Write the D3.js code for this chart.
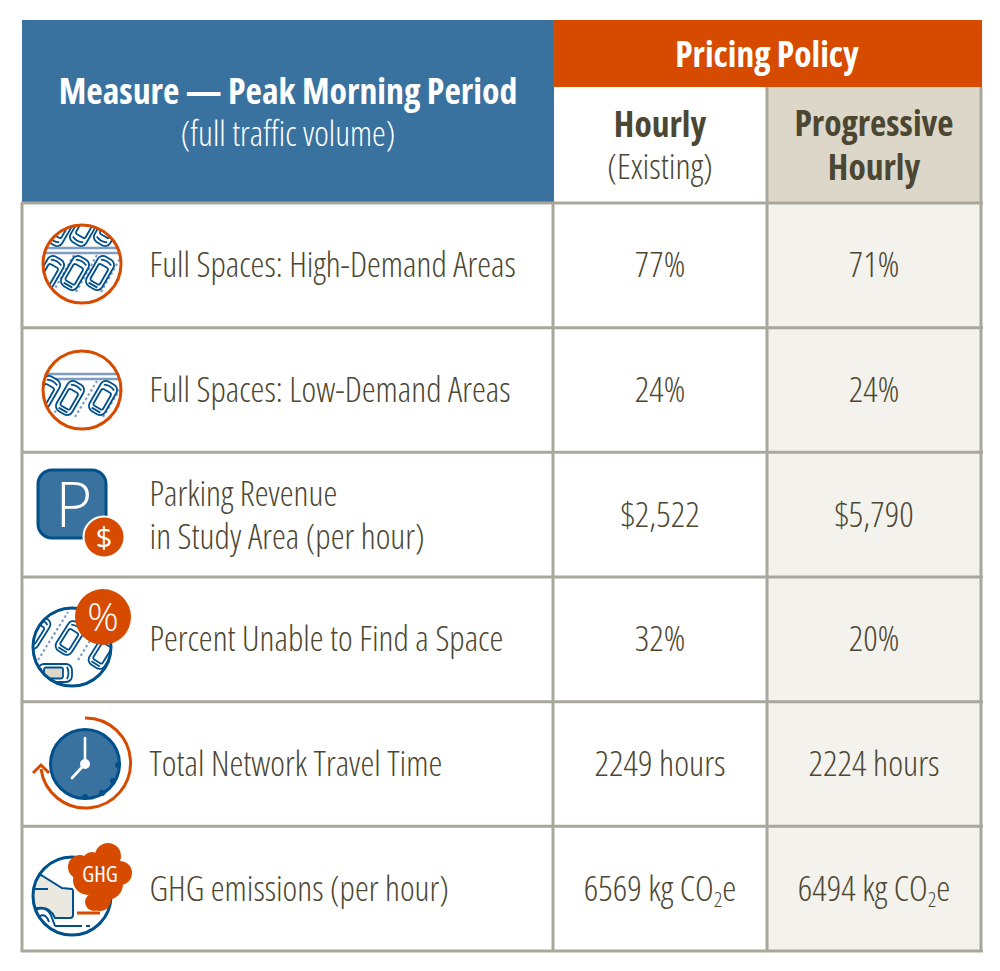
<!DOCTYPE html>
<html>
<head>
<meta charset="utf-8">
<script src="https://cdn.jsdelivr.net/npm/d3@7"></script>
<style>
  html, body { margin: 0; padding: 0; background: #fff; }
  text { font-family: "Open Sans", sans-serif; font-stretch: 75%; }
  text.wide { font-stretch: 100%; }
</style>
</head>
<body>
<div id="chart"></div>
<script>
// table content
var rows = ["high", "low", "revenue", "unable", "time", "ghg"];
var measures = [
    ["Full Spaces: High-Demand Areas"],
    ["Full Spaces: Low-Demand Areas"],
    ["Parking Revenue", "in Study Area (per hour)"],
    ["Percent Unable to Find a Space"],
    ["Total Network Travel Time"],
    ["GHG emissions (per hour)"]
];
var hourly = ["77%", "24%", "$2,522", "32%", "2249 hours", "6569 kg CO2e"];
var progressive = ["71%", "24%", "$5,790", "20%", "2224 hours", "6494 kg CO2e"];

var blue = "#39729f", darkBlue = "#00508c", orange = "#d64b00", grey = "#a9a79b",
    beige = "#ddd7c9", pale = "#f3f2ed", ink = "#4c4733", lane = "#7f9dc2";

var svg = d3.select("#chart").append("svg")
    .attr("width", 1000)
    .attr("height", 971)
    .style("display", "block");
var defs = svg.append("defs");

var y = d3.scaleBand().domain(rows).range([203, 951]);
var colEdge = { measure: 22, hourly: 553, progressive: 767, end: 981 };
var colMid = function (a, b) { return (colEdge[a] + colEdge[b]) / 2; };

// backgrounds
svg.append("rect").attr("x", 22).attr("y", 20).attr("width", 532).attr("height", 183).attr("fill", blue);
svg.append("rect").attr("x", 553).attr("y", 20).attr("width", 429).attr("height", 67).attr("fill", orange);
svg.append("rect").attr("x", colEdge.progressive).attr("y", 87).attr("width", 214).attr("height", 116).attr("fill", beige);
svg.append("rect").attr("x", colEdge.progressive).attr("y", 203).attr("width", 214).attr("height", 748).attr("fill", pale);

// grid
var grid = svg.append("g").attr("stroke", grey).attr("stroke-width", 3);
rows.forEach(function (r) {
    grid.append("line").attr("x1", 21).attr("x2", 983).attr("y1", y(r) + y.bandwidth()).attr("y2", y(r) + y.bandwidth());
});
grid.append("line").attr("x1", 21).attr("x2", 983).attr("y1", 203).attr("y2", 203);
[[colEdge.measure, 203], [colEdge.hourly, 203], [colEdge.progressive, 87], [colEdge.end, 87]].forEach(function (d) {
    grid.append("line").attr("x1", d[0]).attr("x2", d[0]).attr("y1", d[1]).attr("y2", 952);
});

function label(x, yy, str, size, weight, color, anchor) {
    return svg.append("text")
        .attr("x", x).attr("y", yy)
        .attr("text-anchor", anchor || "middle")
        .attr("font-size", size)
        .attr("font-weight", weight)
        .attr("fill", color)
        .text(str);
}

// header
label(288, 104, "Measure — Peak Morning Period", 35.8, 700, "#fff");
label(288, 146, "(full traffic volume)", 34.8, 300, "#fff");
label(767, 67, "Pricing Policy", 35.5, 700, "#fff");
label(660, 137, "Hourly", 35.5, 700, ink);
label(660, 179, "(Existing)", 35.5, 300, ink);
label(874, 136, "Progressive", 35.5, 700, ink);
label(874, 180, "Hourly", 35.5, 700, ink);

// value text, the CO2e figures get a real subscript
function valueCell(x, r, str) {
    var t = label(x, y(r) + y.bandwidth() / 2 + 12, "", 35.5, 300, ink);
    var m = str.match(/^(.*CO)2(e)$/);
    if (m) {
        t.append("tspan").text(m[1]);
        t.append("tspan").attr("font-size", 21).attr("dy", 6).text("2");
        t.append("tspan").attr("dy", -6).text(m[2]);
    } else {
        t.text(str);
    }
}

rows.forEach(function (r, i) {
    var mid = y(r) + y.bandwidth() / 2;
    var lines = measures[i];
    lines.forEach(function (s, j) {
        var yy = lines.length === 1 ? mid + 12 : mid - 9 + j * 43;
        label(149.5, yy, s, 35, 300, ink, "start");
    });
    valueCell(colMid("hourly", "progressive"), r, hourly[i]);
    valueCell(colMid("progressive", "end"), r, progressive[i]);
});

// icons
function car(g, cx, cy, rot, glass) {
    var c = g.append("g")
        .attr("transform", "translate(" + cx + "," + cy + ") rotate(" + rot + ")")
        .attr("fill", "none").attr("stroke", darkBlue).attr("stroke-width", 1.8);
    c.append("rect").attr("x", -9).attr("y", -17).attr("width", 18).attr("height", 34).attr("rx", 6).attr("fill", "#fff");
    c.append("rect").attr("x", -5.5).attr("y", -8).attr("width", 11).attr("height", 19).attr("rx", 2).attr("fill", glass || "none");
    c.append("path").attr("d", "M-6,-12 Q0,-15 6,-12");
    c.append("path").attr("d", "M-5,14 L5,14");
}

function lotLines(g, xs, y1, y2, slant) {
    xs.forEach(function (x) {
        g.append("line").attr("x1", x).attr("x2", x + slant).attr("y1", y2).attr("y2", y1)
            .attr("stroke", lane).attr("stroke-width", 2.2).attr("stroke-dasharray", "2.5 2.5");
    });
}

function circleIcon(id, cx, cy, r, color) {
    defs.append("clipPath").attr("id", id).append("circle").attr("cx", cx).attr("cy", cy).attr("r", r);
    var g = svg.append("g");
    g.append("circle").attr("cx", cx).attr("cy", cy).attr("r", r).attr("fill", "#fff");
    var inner = g.append("g").attr("clip-path", "url(#" + id + ")");
    g.append("circle").attr("cx", cx).attr("cy", cy).attr("r", r).attr("fill", "none").attr("stroke", color).attr("stroke-width", 3);
    return inner;
}

function doubleLine(g, x1, x2, yy) {
    [yy, yy + 5].forEach(function (v) {
        g.append("line").attr("x1", x1).attr("x2", x2).attr("y1", v).attr("y2", v).attr("stroke", lane).attr("stroke-width", 2.5);
    });
}

// high demand
var ic1 = circleIcon("clip1", 82, 264, 39, orange);
[[60, 229], [84, 229], [108, 229]].forEach(function (d) { car(ic1, d[0], d[1], -150); });
lotLines(ic1, [53, 76, 101, 125], 255, 292, 21);
doubleLine(ic1, 40, 124, 248);
[[50, 273], [75, 273], [100, 273]].forEach(function (d) { car(ic1, d[0], d[1], 30); });

// low demand
var ic2 = circleIcon("clip2", 82, 390, 39, orange);
doubleLine(ic2, 40, 124, 374);
lotLines(ic2, [52, 75, 103], 381, 417, 22);
[[46, 393], [70, 398], [103, 398]].forEach(function (d) { car(ic2, d[0], d[1], 30); });

// revenue
var ic3 = svg.append("g");
ic3.append("rect").attr("x", 38).attr("y", 470).attr("width", 68).attr("height", 68).attr("rx", 14)
    .attr("fill", blue).attr("stroke", darkBlue).attr("stroke-width", 3);
ic3.append("text").attr("class", "wide").attr("x", 74).attr("y", 527).attr("text-anchor", "middle").attr("font-size", 63).attr("font-weight", 300).attr("fill", "#fff").text("P");
ic3.append("circle").attr("cx", 104).attr("cy", 537).attr("r", 20.5).attr("fill", orange).attr("stroke", "#fff").attr("stroke-width", 2);
ic3.append("text").attr("class", "wide").attr("x", 104).attr("y", 548).attr("text-anchor", "middle").attr("font-size", 29).attr("font-weight", 400).attr("fill", "#fff").text("$");

// unable to find a space
var ic4 = circleIcon("clip4", 72, 647, 39, darkBlue);
lotLines(ic4, [38, 78], 612, 660, 30);
car(ic4, 70, 638, 32);
car(ic4, 36, 632, 32);
car(ic4, 103, 652, 32);
car(ic4, 55, 673, 90, beige);
svg.append("circle").attr("cx", 103).attr("cy", 617).attr("r", 28).attr("fill", orange);
svg.append("text").attr("class", "wide").attr("x", 103).attr("y", 631).attr("text-anchor", "middle").attr("font-size", 39).attr("font-weight", 300).attr("fill", "#fff").text("%");

// travel time
var ic5 = svg.append("g");
ic5.append("path").attr("d", "M85,718 A45,45 0 1 1 41,769").attr("fill", "none").attr("stroke", orange).attr("stroke-width", 3);
ic5.append("path").attr("d", "M33,773 L41,765 L49,773").attr("fill", "none").attr("stroke", orange).attr("stroke-width", 3);
ic5.append("circle").attr("cx", 85).attr("cy", 764).attr("r", 34.5).attr("fill", blue).attr("stroke", darkBlue).attr("stroke-width", 3);
[[118, 765], [113, 781], [102, 793], [85, 797]].forEach(function (d) {
    ic5.append("circle").attr("cx", d[0]).attr("cy", d[1]).attr("r", 3).attr("fill", darkBlue);
});
ic5.append("path").attr("d", "M85,738 L85,764 L72,778").attr("fill", "none").attr("stroke", "#fff").attr("stroke-width", 2.6).attr("stroke-linecap", "round");
ic5.append("circle").attr("cx", 85).attr("cy", 764).attr("r", 5).attr("fill", "#fff");

// ghg
var ic6 = circleIcon("clip6", 72, 896, 39, darkBlue);
ic6.append("path").attr("d", "M30,876 L41,875 L62,888 L72,889 Q73,889 73,892 L73,915 Q73,918 70,918 L55,918 Q50,906 38,908 L30,908 Z")
    .attr("fill", "#ebe8df").attr("stroke", darkBlue).attr("stroke-width", 2);
ic6.append("path").attr("d", "M30,889 L48,889").attr("stroke", darkBlue).attr("stroke-width", 2);
ic6.append("path").attr("d", "M36,910 Q48,905 52,918 L55,926 M40,916 Q46,913 49,922").attr("fill", "none").attr("stroke", darkBlue).attr("stroke-width", 2);
ic6.append("path").attr("d", "M55,926 L82,926 M86,926 L90,926").attr("stroke", darkBlue).attr("stroke-width", 2);
var cloud = svg.append("g").attr("fill", orange);
[[80, 867, 12], [92, 862, 10], [108, 856, 13], [120, 873, 12], [107, 884, 16], [88, 880, 15], [100, 900, 11], [94, 902, 9]].forEach(function (d) {
    cloud.append("circle").attr("cx", d[0]).attr("cy", d[1]).attr("r", d[2]);
});
svg.append("line").attr("x1", 77).attr("x2", 100).attr("y1", 913).attr("y2", 913).attr("stroke", orange).attr("stroke-width", 3);
svg.append("text").attr("x", 100).attr("y", 882).attr("text-anchor", "middle").attr("font-size", 22).attr("font-weight", 400).attr("fill", "#fff").text("GHG");
</script>
</body>
</html>
